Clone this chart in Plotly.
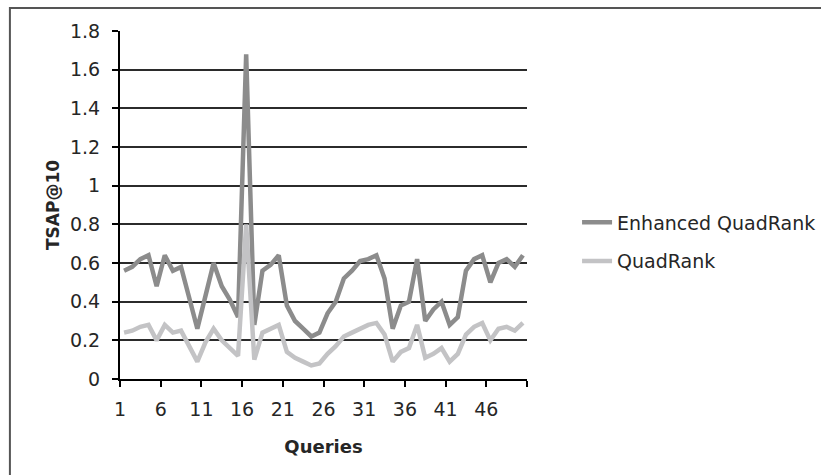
import plotly.graph_objects as go

queries = list(range(1, 51))
enhanced_quadrank = [0.56, 0.58, 0.62, 0.64, 0.48, 0.64, 0.56, 0.58, 0.42, 0.26,
                     0.43, 0.60, 0.48, 0.41, 0.32, 1.68, 0.28, 0.56, 0.59, 0.64,
                     0.38, 0.30, 0.26, 0.22, 0.24, 0.34, 0.40, 0.52, 0.56, 0.61,
                     0.62, 0.64, 0.52, 0.26, 0.38, 0.40, 0.62, 0.30, 0.36, 0.40,
                     0.28, 0.32, 0.56, 0.62, 0.64, 0.50, 0.60, 0.62, 0.58, 0.64]
quadrank = [0.24, 0.25, 0.27, 0.28, 0.20, 0.28, 0.24, 0.25, 0.17, 0.09,
            0.19, 0.26, 0.20, 0.16, 0.12, 0.80, 0.10, 0.24, 0.26, 0.28,
            0.14, 0.11, 0.09, 0.07, 0.08, 0.13, 0.17, 0.22, 0.24, 0.26,
            0.28, 0.29, 0.23, 0.09, 0.14, 0.16, 0.28, 0.11, 0.13, 0.16,
            0.09, 0.13, 0.23, 0.27, 0.29, 0.20, 0.26, 0.27, 0.25, 0.29]
x_tick_labels = ["1", "6", "11", "16", "21", "26", "31", "36", "41", "46", ""]
y_ticks = [0, 0.2, 0.4, 0.6, 0.8, 1.0, 1.2, 1.4, 1.6, 1.8]

# tick marks sit on category boundaries (every 5 categories)
boundaries = [0.5 + 5 * k for k in range(len(x_tick_labels))]

FONT = "DejaVu Sans"
TXT = "#262626"

fig = go.Figure()
fig.add_trace(go.Scatter(x=queries, y=enhanced_quadrank, mode="lines",
                         name="Enhanced QuadRank", legendgroup="a",
                         line=dict(color="#8c8c8c", width=4.5)))
fig.add_trace(go.Scatter(x=queries, y=quadrank, mode="lines",
                         name="QuadRank", legendgroup="b",
                         line=dict(color="#c3c3c5", width=4.5)))

fig.update_layout(
    width=821, height=475,
    margin=dict(l=120, r=294, t=31, b=96, autoexpand=False),
    paper_bgcolor="white", plot_bgcolor="white",
    font=dict(family=FONT, size=19, color=TXT),
    showlegend=True,
    legend=dict(x=1.123, xanchor="left", y=0.394, yanchor="middle",
                font=dict(family=FONT, size=19, color=TXT),
                tracegroupgap=11, bgcolor="rgba(0,0,0,0)"),
    xaxis=dict(range=[0.5, 50.5], tickmode="array", tickvals=boundaries,
               ticktext=x_tick_labels, ticks="outside", ticklen=6,
               tickwidth=1.5, tickcolor="black", showline=True,
               linecolor="black", linewidth=2, showgrid=False, zeroline=False,
               ticklabelstandoff=6, automargin=False,
               tickfont=dict(family=FONT, size=19, color=TXT),
               title=dict(text="<b>Queries</b>", standoff=22,
                          font=dict(family=FONT, size=18, color=TXT))),
    xaxis2=dict(range=[0.5, 50.5], overlaying="x", anchor="y", side="bottom",
                tickmode="array", tickvals=boundaries, ticks="inside",
                ticklen=6, tickwidth=1.5, tickcolor="black",
                showticklabels=False, showgrid=False, showline=False,
                zeroline=False),
    yaxis=dict(range=[0, 1.8], tickmode="array", tickvals=y_ticks,
               ticks="outside", ticklen=6, tickwidth=1.5, tickcolor="black",
               showline=True, linecolor="black", linewidth=2,
               showgrid=True, gridcolor="#2b2b2b", gridwidth=1.5,
               zeroline=False, ticklabelstandoff=8, automargin=False,
               tickfont=dict(family=FONT, size=19, color=TXT),
               title=dict(text="<b>TSAP@10</b>", standoff=6,
                          font=dict(family=FONT, size=17, color=TXT))),
    shapes=[
        dict(type="rect", xref="paper", yref="paper", x0=-0.2705, x1=1.75,
             y0=-0.32, y1=1.066, line=dict(color="#555555", width=2),
             fillcolor="rgba(0,0,0,0)", layer="above"),
    ],
)

fig.write_html("out.html",
               config={"displayModeBar": False},
               post_script="document.body.style.margin='0';"
                           "document.body.style.overflow='hidden';")
